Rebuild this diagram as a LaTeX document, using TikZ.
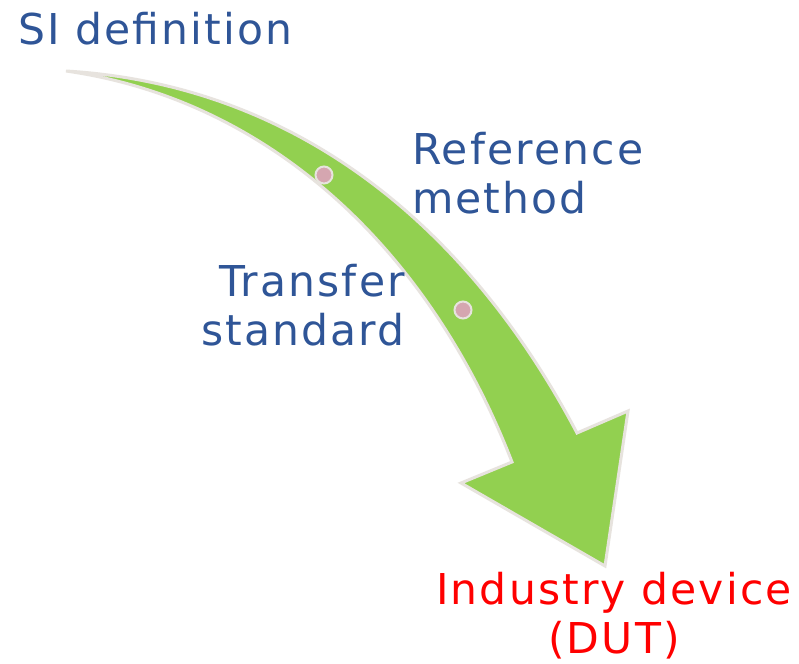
\documentclass[tikz,border=0pt]{standalone}
\usepackage{fontspec}
\setmainfont[LetterSpace=5]{DejaVu Sans}
\definecolor{txtblue}{RGB}{47,85,151}
\definecolor{arrgreen}{RGB}{146,208,80}
\definecolor{rimgray}{RGB}{231,227,222}
\definecolor{dotpink}{RGB}{213,166,176}
\begin{document}
\begin{tikzpicture}[x=1pt,y=-1pt,
  lbl/.style={inner sep=0pt, font=\fontsize{42.5}{49}\selectfont},
  dot/.style={circle, minimum size=17pt, inner sep=0pt, fill=dotpink, draw=rimgray, line width=2pt}]
\useasboundingbox (0,0) rectangle (799,663);
\fill[white] (0,0) rectangle (799,663);
% curved arrow
\draw[fill=arrgreen, draw=rimgray, line width=3pt, line join=miter]
  (66,71) .. controls (300,85) and (470,230) .. (577,433)
  -- (628,411) -- (605,566) -- (461,483) -- (512,462)
  .. controls (430,250) and (270,100) .. (66,71) -- cycle;
\node[dot] (d1) at (324,175) {};
\node[dot] (d2) at (463,310) {};
% labels
\node[lbl, text=txtblue, anchor=base west] (si) at (18,45) {SI definition};
\node[lbl, text=txtblue, anchor=base west, align=left] (ref) at (412,213) {Reference\\method};
\node[lbl, text=txtblue, anchor=base east, align=right] (tr) at (405,345) {Transfer\\standard};
\node[lbl, text=red, anchor=base, align=center] (dut) at (614,653) {Industry device\\(DUT)};
\end{tikzpicture}
\end{document}
